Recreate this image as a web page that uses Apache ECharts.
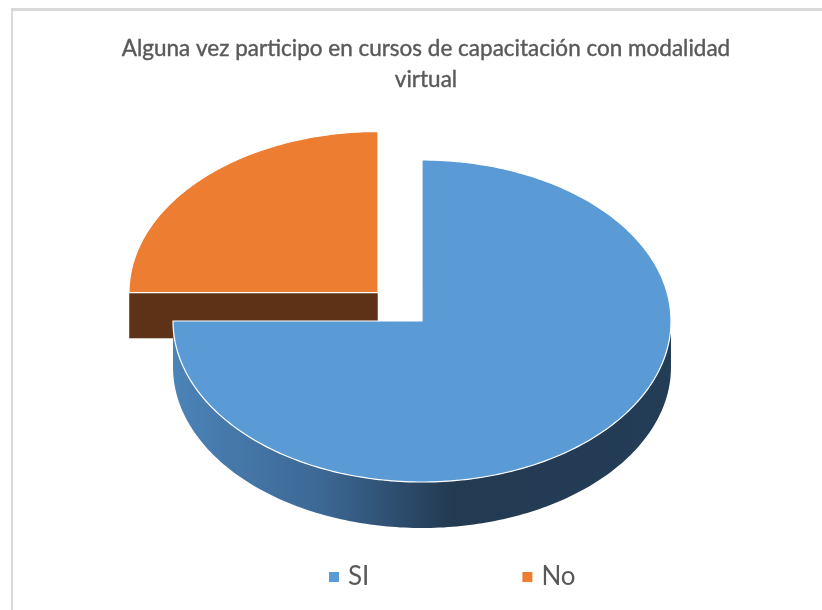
<!DOCTYPE html>
<html>
<head>
<meta charset="utf-8">
<script src="https://cdn.jsdelivr.net/npm/echarts@6/dist/echarts.min.js"></script>
<style>html,body{margin:0;padding:0;background:#fff}#c{width:822px;height:610px}</style>
</head>
<body>
<div id="c"></div>
<script>
const titleText = 'Alguna vez participo en cursos de capacitación con modalidad\nvirtual';
const categories = ['SI', 'No'];
const values = [75, 25];
const explodeFrac = [0, 0.25];

const colors = ['#5b9bd5', '#ed7d31'];
const sideColors = [
  {type:'linear', x:0, y:0, x2:1, y2:0, colorStops:[
    {offset:0, color:'#4c83b8'}, {offset:0.3, color:'#3c6894'},
    {offset:0.56, color:'#233a52'}, {offset:1, color:'#243d57'}]},
  '#5e3216'
];
const faceColors = ['#3a6a99', '#5e3216'];

const CX = 422, CY = 321, RX = 249, RY = 161, DEPTH = 46;
const total = values.reduce((a, b) => a + b, 0);

function pt(cx, cy, deg, dy) {
  const r = deg * Math.PI / 180;
  return [cx + RX * Math.sin(r), cy - RY * Math.cos(r) + (dy || 0)];
}

function makeRender(idx) {
  return function (params, api) {
    const v = api.value(0);
    let before = 0;
    for (let k = 0; k < idx; k++) before += values[k];
    const a0 = before / total * 360;
    const a1 = (before + v) / total * 360;
    const mid = (a0 + a1) / 2 * Math.PI / 180;
    const ex = explodeFrac[idx];
    const cx = CX + RX * ex * Math.sin(mid);
    const cy = CY - RY * ex * Math.cos(mid);
    const children = [];
    const faces = [[a0, a0 - 90], [a1, a1 + 90]];
    faces.forEach(function (f) {
      const nrm = f[1] * Math.PI / 180;
      if (-Math.cos(nrm) > 0.01) {
        const p = pt(cx, cy, f[0]);
        children.push({type:'polygon', shape:{points:[[cx, cy], p, [p[0], p[1] + DEPTH], [cx, cy + DEPTH]]},
          style:{fill: faceColors[idx], stroke:'rgba(255,255,255,0.6)', lineWidth:0.8}});
      }
    });
    const w0 = Math.max(a0, 90), w1 = Math.min(a1, 270);
    if (w1 > w0) {
      const top = [], bot = [];
      for (let d = w0; d <= w1 + 1e-6; d += 1) { top.push(pt(cx, cy, d)); bot.push(pt(cx, cy, d, DEPTH)); }
      children.push({type:'polygon', shape:{points: top.concat(bot.reverse())},
        style:{fill: sideColors[idx], stroke: null}});
    }
    const pts = [[cx, cy]];
    for (let d = a0; d <= a1 + 1e-6; d += 1) pts.push(pt(cx, cy, d));
    children.push({type:'polygon', shape:{points: pts},
      style:{fill: colors[idx], stroke:'#ffffff', lineWidth:1.2}});
    return {type:'group', children: children};
  };
}

const series = [];
for (let i = categories.length - 1; i >= 0; i--) {
  series.push({
    type:'custom', name: categories[i], coordinateSystem:'none',
    z: 10 - i,
    itemStyle:{color: colors[i]},
    emphasis:{disabled:true},
    renderItem: makeRender(i),
    data: [[values[i]]]
  });
}

const chart = echarts.init(document.getElementById('c'), null, {renderer:'canvas'});
chart.setOption({
  animation:false,
  backgroundColor:'#ffffff',
  title:{
    text: titleText, left: 421, top: 28, textAlign:'center',
    textStyle:{fontFamily:'Lato', fontSize:22.5, fontWeight:'normal', color:'#595959', lineHeight:31,
      textBorderColor:'#595959', textBorderWidth:0.4}
  },
  legend:{
    data: categories, left: 324, top: 559,
    icon:'rect', itemWidth:10, itemHeight:10, itemGap:153,
    textStyle:{fontFamily:'Lato', fontSize:26, color:'#595959', padding:[0,0,0,4]}
  },
  graphic:[
    {type:'rect', shape:{x:11, y:8, width:811, height:3}, style:{fill:'#d9d9d9'}, silent:true},
    {type:'rect', shape:{x:11, y:8, width:2, height:602}, style:{fill:'#d9d9d9'}, silent:true}
  ],
  series: series
});
</script>
</body>
</html>
